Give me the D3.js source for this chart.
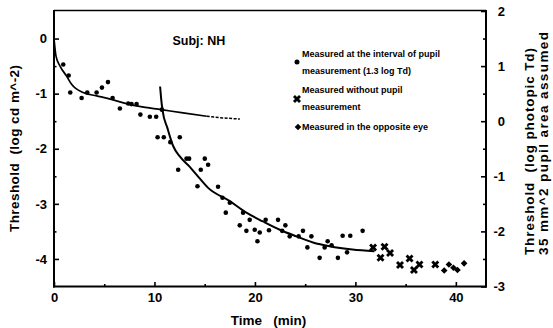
<!DOCTYPE html>
<html><head><meta charset="utf-8">
<script src="https://cdn.jsdelivr.net/npm/d3@7"></script>
<style>
html,body{margin:0;padding:0;background:#fff;}
svg{display:block;}
text{font-family:"Liberation Sans",Arial,Helvetica,sans-serif;font-weight:bold;fill:#000;}
</style></head><body>
<svg id="chart" width="553" height="328"></svg>
<script>
// ---- data ----
const xDomain = [0, 43];
const yDomain = [-4.5, 0.5];      // log cd m^-2
const yRDomain = [-3, 2];         // log photopic Td
const xTicks = [0, 10, 20, 30, 40];
const xMinorTicks = [5, 15, 25, 35];
const yTicks = [0, -1, -2, -3, -4];
const yMinorTicks = [-0.5, -1.5, -2.5, -3.5];
const yRTicks = [2, 1, 0, -1, -2, -3];
const yRMinorTicks = [1.5, 0.5, -0.5, -1.5, -2.5];

// cone branch (fitted curve)
const coneT = [0, 0.2, 0.6, 1.25, 1.75, 2.9, 4.25, 5.6, 7.2, 8.5, 10.7, 12.85, 15.2];
const coneV = [0, -0.32, -0.5, -0.68, -0.83, -0.98, -1.04, -1.1, -1.18, -1.23, -1.29, -1.35, -1.41];
const coneTailT = [15.2, 16.8, 18.5];
const coneTailV = [-1.41, -1.44, -1.46];
// rod branch (fitted curve)
const rodT = [10.56, 10.66, 10.8, 11.3, 11.86, 12.52, 13.52, 14.18, 15.34, 17.5, 19.15, 20.8, 22.47, 24.13, 25.78, 27.44, 29.7, 31.9];
const rodV = [-0.87, -1.08, -1.3, -1.63, -1.95, -2.14, -2.33, -2.47, -2.71, -2.95, -3.16, -3.32, -3.47, -3.59, -3.7, -3.77, -3.83, -3.86];

// measured at the interval of pupil measurement
const dotT = [0.92, 1.46, 1.62, 2.75, 3.31, 4.24, 4.77, 5.37, 5.83, 6.56, 7.39, 7.72, 8.22, 8.6, 9.54, 10.17, 10.74,
  10.31, 10.93, 12.52, 11.58, 13.19, 13.45, 15.01, 15.34, 12.36, 14.61, 14.28, 16.33, 16.77, 17.5, 17.1, 18.82, 19.48,
  18.49, 19.15, 19.98, 20.48, 20.25, 21.07, 21.4, 22.3, 23.03, 22.71, 23.46, 24.35, 24.78, 25.22, 25.62, 26.44, 26.94,
  27.24, 27.63, 28.26, 28.73, 29.49, 29.17, 30.72];
const dotV = [-0.47, -0.67, -0.98, -1.08, -0.98, -0.98, -0.89, -0.79, -1.08, -1.27, -1.18, -1.19, -1.19, -1.38, -1.42, -1.42, -1.29,
  -1.79, -1.79, -1.79, -1.88, -2.18, -2.18, -2.18, -2.29, -2.38, -2.38, -2.68, -2.69, -2.89, -2.98, -3.16, -3.16, -3.29,
  -3.39, -3.49, -3.47, -3.52, -3.68, -3.29, -3.48, -3.29, -3.39, -3.49, -3.59, -3.59, -3.49, -3.79, -3.59, -3.98, -3.79,
  -3.68, -3.75, -3.98, -3.58, -3.58, -3.88, -3.49];
// measured without pupil measurement
const crossT = [31.76, 32.5, 32.9, 33.45, 34.44, 35.39, 35.83, 36.38, 37.95];
const crossV = [-3.79, -3.98, -3.78, -3.89, -4.11, -3.99, -4.2, -4.1, -4.1];
// measured in the opposite eye
const diamondT = [38.84, 39.31, 39.76, 40.16, 40.82];
const diamondV = [-4.21, -4.1, -4.16, -4.2, -4.08];

const legendLines = [
  ["Measured at the interval of pupil", "measurement (1.3 log Td)"],
  ["Measured without pupil", "measurement"],
  ["Measured in the opposite eye"]
];
const subjectLabel = "Subj: NH";
const xTitle = "Time   (min)";
const yTitle = "Threshold  (log cd m^-2)";
const yRTitle = ["Threshold  (log photopic Td)", "35 mm^2 pupil area assumed"];

// ---- drawing ----
const svg = d3.select("#chart");
const L = 54, R = 486, T = 11, B = 286.5;
const x = d3.scaleLinear().domain(xDomain).range([L, R]);
const y = d3.scaleLinear().domain(yDomain).range([B, T]);
const yR = d3.scaleLinear().domain(yRDomain).range([B, T]);
const fmt = d => String(d);

function styleAxis(g, fs) {
  g.attr("font-size", fs).attr("font-family", null);
  g.select(".domain").remove();
  g.selectAll(".tick line").attr("stroke", "#000").attr("stroke-width", 1.6);
}

// left axis
svg.append("g").attr("transform", `translate(${L},0)`)
  .call(d3.axisLeft(y).tickValues(yTicks).tickSize(-5).tickSizeOuter(0).tickPadding(7).tickFormat(fmt))
  .call(g => styleAxis(g, 13));
svg.append("g").attr("transform", `translate(${L},0)`)
  .call(d3.axisLeft(y).tickValues(yMinorTicks).tickSize(-2.5).tickSizeOuter(0).tickFormat(""))
  .call(g => styleAxis(g, 13));
// bottom axis
svg.append("g").attr("transform", `translate(0,${B})`)
  .call(d3.axisBottom(x).tickValues(xTicks).tickSize(-4.5).tickSizeOuter(0).tickPadding(6).tickFormat(fmt))
  .call(g => styleAxis(g, 13));
svg.append("g").attr("transform", `translate(0,${B})`)
  .call(d3.axisBottom(x).tickValues(xMinorTicks).tickSize(-2.5).tickSizeOuter(0).tickFormat(""))
  .call(g => styleAxis(g, 13));
// right axis
svg.append("g").attr("transform", `translate(${R},0)`)
  .call(d3.axisRight(yR).tickValues(yRTicks).tickSize(-5).tickSizeOuter(0).tickPadding(19).tickFormat(fmt))
  .call(g => styleAxis(g, 13))
  .call(g => g.selectAll("text").attr("text-anchor", "end"));
svg.append("g").attr("transform", `translate(${R},0)`)
  .call(d3.axisRight(yR).tickValues(yRMinorTicks).tickSize(-3).tickSizeOuter(0).tickFormat(""))
  .call(g => styleAxis(g, 13));

// frame
const frame = svg.append("g").attr("stroke", "#000").attr("fill", "none");
frame.append("line").attr("x1", L).attr("x2", L).attr("y1", T - 1).attr("y2", B + 1).attr("stroke-width", 2);
frame.append("line").attr("x1", L - 1).attr("x2", R + 1).attr("y1", B).attr("y2", B).attr("stroke-width", 2);
frame.append("line").attr("x1", R).attr("x2", R).attr("y1", T - 1).attr("y2", B + 1).attr("stroke-width", 2);
frame.append("line").attr("x1", L).attr("x2", R).attr("y1", T - 0.5).attr("y2", T - 0.5).attr("stroke-width", 1.5);

// curves
const line = d3.line().x(d => x(d[0])).y(d => y(d[1])).curve(d3.curveMonotoneX);
svg.append("path").datum(d3.zip(coneT, coneV)).attr("d", line)
  .attr("fill", "none").attr("stroke", "#000").attr("stroke-width", 1.7);
svg.append("path").datum(d3.zip(coneTailT, coneTailV)).attr("d", line)
  .attr("fill", "none").attr("stroke", "#000").attr("stroke-width", 1.5).attr("stroke-dasharray", "3,1.5");
svg.append("path").datum(d3.zip(rodT, rodV)).attr("d", line)
  .attr("fill", "none").attr("stroke", "#000").attr("stroke-width", 2);

// markers
const crossSym = d3.symbol().type(d3.symbolCross).size(40);
const diamondSym = d3.symbol().type(d3.symbolSquare).size(22);
svg.append("g").selectAll("circle").data(d3.zip(dotT, dotV)).join("circle")
  .attr("cx", d => x(d[0])).attr("cy", d => y(d[1])).attr("r", 2.3).attr("fill", "#000");
svg.append("g").selectAll("path").data(d3.zip(crossT, crossV)).join("path")
  .attr("d", crossSym).attr("fill", "#000")
  .attr("transform", d => `translate(${x(d[0])},${y(d[1])}) rotate(45)`);
svg.append("g").selectAll("path").data(d3.zip(diamondT, diamondV)).join("path")
  .attr("d", diamondSym).attr("fill", "#000")
  .attr("transform", d => `translate(${x(d[0])},${y(d[1])}) rotate(45)`);

// legend
const lg = svg.append("g");
lg.append("circle").attr("cx", 297).attr("cy", 62).attr("r", 2.5).attr("fill", "#000");
lg.append("path").attr("d", crossSym).attr("fill", "#000").attr("transform", "translate(297,99) rotate(45)");
lg.append("path").attr("d", diamondSym).attr("fill", "#000").attr("transform", "translate(298,127) rotate(45)");
const legendBaselines = [[57, 74], [92.5, 110], [130]];
legendLines.forEach((lines, i) => {
  lines.forEach((s, j) => {
    lg.append("text").attr("x", 302).attr("y", legendBaselines[i][j]).attr("font-size", 9).text(s);
  });
});

// subject
svg.append("text").attr("x", 172.5).attr("y", 45).attr("font-size", 12.5).text(subjectLabel);

// axis titles
svg.append("text").attr("x", 268.5).attr("y", 325).attr("font-size", 13.5)
  .attr("text-anchor", "middle").style("white-space", "pre").text(xTitle);
svg.append("text").attr("transform", "translate(18.5,232) rotate(-90)").attr("font-size", 13.5)
  .attr("textLength", 167).attr("lengthAdjust", "spacing").style("white-space", "pre").text(yTitle);
svg.append("text").attr("transform", "translate(534,255) rotate(-90)").attr("font-size", 13.5)
  .attr("textLength", 207).attr("lengthAdjust", "spacing").style("white-space", "pre").text(yRTitle[0]);
svg.append("text").attr("transform", "translate(547.5,255) rotate(-90)").attr("font-size", 13.5)
  .attr("textLength", 223).attr("lengthAdjust", "spacing").style("white-space", "pre").text(yRTitle[1]);
</script></body></html>
